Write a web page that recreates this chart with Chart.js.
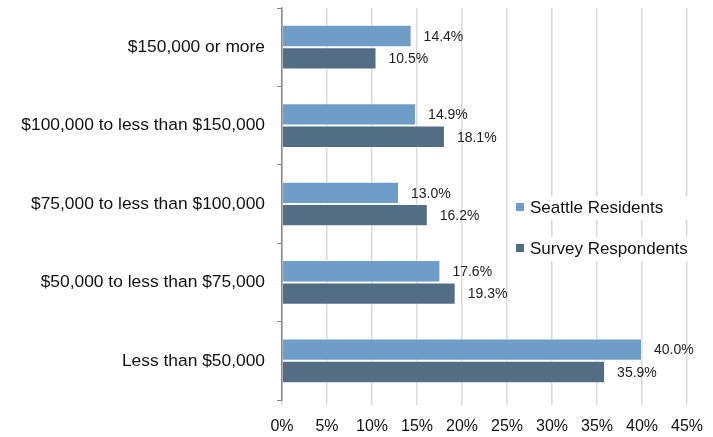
<!DOCTYPE html>
<html>
<head>
<meta charset="utf-8">
<script src="https://cdn.jsdelivr.net/npm/chart.js@4/dist/chart.umd.min.js"></script>
<style>
  html, body { margin: 0; padding: 0; background: #fff; }
  .chart-container { width: 713px; height: 437px; position: relative; }
</style>
</head>
<body>
<div class="chart-container"><canvas id="chart"></canvas></div>
<script>
const categories = [
  '$150,000 or more',
  '$100,000 to less than $150,000',
  '$75,000 to less than $100,000',
  '$50,000 to less than $75,000',
  'Less than $50,000'
];
const seattleResidents = [14.4, 14.9, 13.0, 17.6, 40.0];
const surveyRespondents = [10.5, 18.1, 16.2, 19.3, 35.9];
const seriesNames = ['Seattle Residents', 'Survey Respondents'];
const seriesColors = ['#6e9ec8', '#536d85'];

const fontFamily = '"Liberation Sans", Arial, sans-serif';

// values at the end of each bar
const barLabels = {
  id: 'barLabels',
  afterDatasetsDraw(chart) {
    const ctx = chart.ctx;
    ctx.save();
    ctx.font = '14px ' + fontFamily;
    ctx.fillStyle = '#222';
    ctx.textAlign = 'left';
    ctx.textBaseline = 'middle';
    chart.data.datasets.forEach((ds, i) => {
      chart.getDatasetMeta(i).data.forEach((bar, j) => {
        ctx.fillText(ds.data[j].toFixed(1) + '%', bar.x + 12, bar.y + 1);
      });
    });
    ctx.restore();
  }
};

// legend sits inside the plot, right side
const sideLegend = {
  id: 'sideLegend',
  afterDraw(chart) {
    const ctx = chart.ctx;
    ctx.save();
    ctx.font = '17px ' + fontFamily;
    ctx.textBaseline = 'middle';
    chart.data.datasets.forEach((ds, i) => {
      const y = 208 + i * 41;
      ctx.fillStyle = '#fff';
      ctx.fillRect(508, y - 12, 195, 24);
      ctx.fillStyle = ds.backgroundColor;
      ctx.fillRect(516, y - 5, 8, 8);
      ctx.fillStyle = '#111';
      ctx.fillText(ds.label, 530, y);
    });
    ctx.restore();
  }
};

const ctx = document.getElementById('chart').getContext('2d');
new Chart(ctx, {
  type: 'bar',
  data: {
    labels: categories,
    datasets: [
      {
        label: seriesNames[0],
        data: seattleResidents,
        backgroundColor: seriesColors[0],
        borderColor: 'rgba(255,255,255,0.5)',
        borderWidth: 1,
        categoryPercentage: 0.57,
        barPercentage: 1
      },
      {
        label: seriesNames[1],
        data: surveyRespondents,
        backgroundColor: seriesColors[1],
        borderColor: 'rgba(255,255,255,0.5)',
        borderWidth: 1,
        categoryPercentage: 0.57,
        barPercentage: 1
      }
    ]
  },
  options: {
    indexAxis: 'y',
    responsive: true,
    maintainAspectRatio: false,
    animation: false,
    layout: { padding: { top: 8, right: 26, left: 0, bottom: 0 } },
    scales: {
      x: {
        min: 0,
        max: 45,
        ticks: {
          stepSize: 5,
          color: '#111',
          font: { size: 16, family: fontFamily },
          padding: 12,
          callback: v => v + '%'
        },
        grid: {
          color: '#d9d9d9',
          lineWidth: 1.5,
          tickLength: 5
        },
        border: { display: false },
        afterFit(scale) {
          scale.height = 37;
          scale.paddingLeft = 0;
          scale.paddingRight = 0;
        }
      },
      y: {
        ticks: {
          color: '#111',
          font: { size: 17.4, family: fontFamily },
          padding: 12
        },
        grid: {
          offset: true,
          drawOnChartArea: false,
          color: '#888',
          tickLength: 5
        },
        border: { display: true, color: '#888', width: 1.5 },
        afterFit(scale) {
          scale.width = 282;
          scale.paddingTop = 0;
          scale.paddingBottom = 0;
        }
      }
    },
    plugins: {
      legend: { display: false },
      tooltip: { enabled: false }
    }
  },
  plugins: [barLabels, sideLegend]
});
</script>
</body>
</html>
